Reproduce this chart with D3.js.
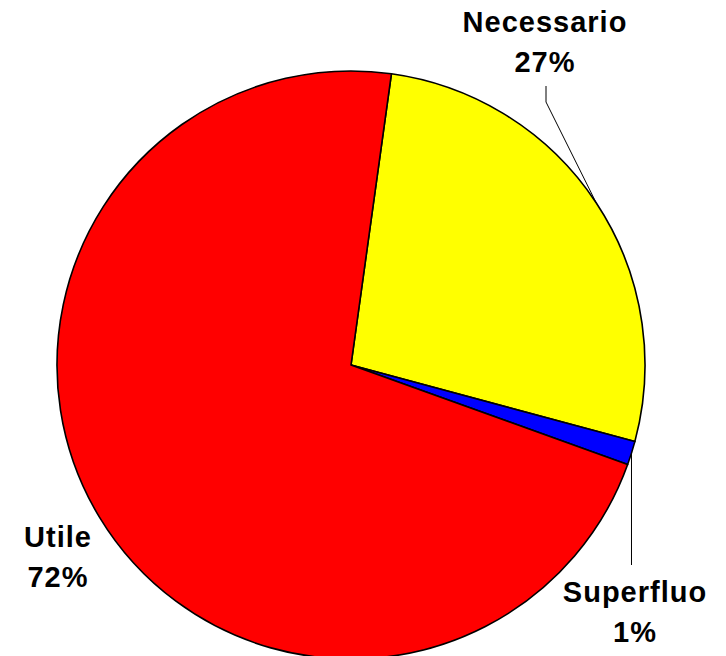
<!DOCTYPE html>
<html>
<head>
<meta charset="utf-8">
<script src="https://cdn.jsdelivr.net/npm/d3@7"></script>
<style>
  body { margin: 0; background: #fff; }
  svg { display: block; }
  text { font-family: "Liberation Sans", Arial, sans-serif; font-weight: bold; font-size: 29px; letter-spacing: 1px; }
</style>
</head>
<body>
<svg id="chart" width="726" height="656"></svg>
<script>
// slice data, in drawing order (clockwise)
var categories = ["Necessario", "Superfluo", "Utile"];
var values = [27, 1.3, 71.7];
var colors = ["#ffff00", "#0000ff", "#ff0000"];

// layout
var cx = 351, cy = 365, radius = 294;
var startDeg = 7.9;
// label anchors (centre x, first baseline) and leader line ends
var labelPos = [
  {x: 545, y: 32, leader: "elbow", elbow: [546, 102], end: [546, 86]},
  {x: 635, y: 602, leader: "down", end: 565},
  {x: 58, y: 547, leader: null}
];

var svg = d3.select("svg#chart");
var total = d3.sum(values);

var data = categories.map(function (c, i) {
  return {name: c, value: values[i], color: colors[i], pos: labelPos[i]};
});

var start = startDeg * Math.PI / 180;
var pie = d3.pie()
  .sort(null)
  .value(function (d) { return d.value; })
  .startAngle(start)
  .endAngle(start + 2 * Math.PI);

var arc = d3.arc().innerRadius(0).outerRadius(radius);

var g = svg.append("g").attr("transform", "translate(" + cx + "," + cy + ")");

var arcs = pie(data);

g.selectAll("path")
  .data(arcs)
  .enter()
  .append("path")
  .attr("d", arc)
  .attr("fill", function (d) { return d.data.color; })
  .attr("stroke", "#000")
  .attr("stroke-width", 1.6)
  .attr("stroke-linejoin", "round");

// point on the rim at the middle of a slice, page coordinates
function rimPoint(d) {
  var a = (d.startAngle + d.endAngle) / 2;
  return [cx + radius * Math.sin(a), cy - radius * Math.cos(a)];
}

// leader lines
arcs.forEach(function (d) {
  var p = d.data.pos;
  if (!p.leader) return;
  var rim = rimPoint(d);
  var pts;
  if (p.leader === "elbow") {
    pts = [rim, p.elbow, p.end];
  } else {
    pts = [rim, [rim[0], p.end]];
  }
  svg.append("path")
    .attr("d", d3.line()(pts))
    .attr("fill", "none")
    .attr("stroke", "#000")
    .attr("stroke-width", 1);
});

// labels
var labels = svg.append("g")
  .selectAll("text")
  .data(arcs)
  .enter()
  .append("text")
  .attr("text-anchor", "middle")
  .attr("x", function (d) { return d.data.pos.x; })
  .attr("y", function (d) { return d.data.pos.y; });

labels.append("tspan")
  .attr("x", function (d) { return d.data.pos.x; })
  .text(function (d) { return d.data.name; });

labels.append("tspan")
  .attr("x", function (d) { return d.data.pos.x; })
  .attr("dy", 40)
  .text(function (d) { return Math.round(d.data.value / total * 100) + "%"; });
</script>
</body>
</html>
